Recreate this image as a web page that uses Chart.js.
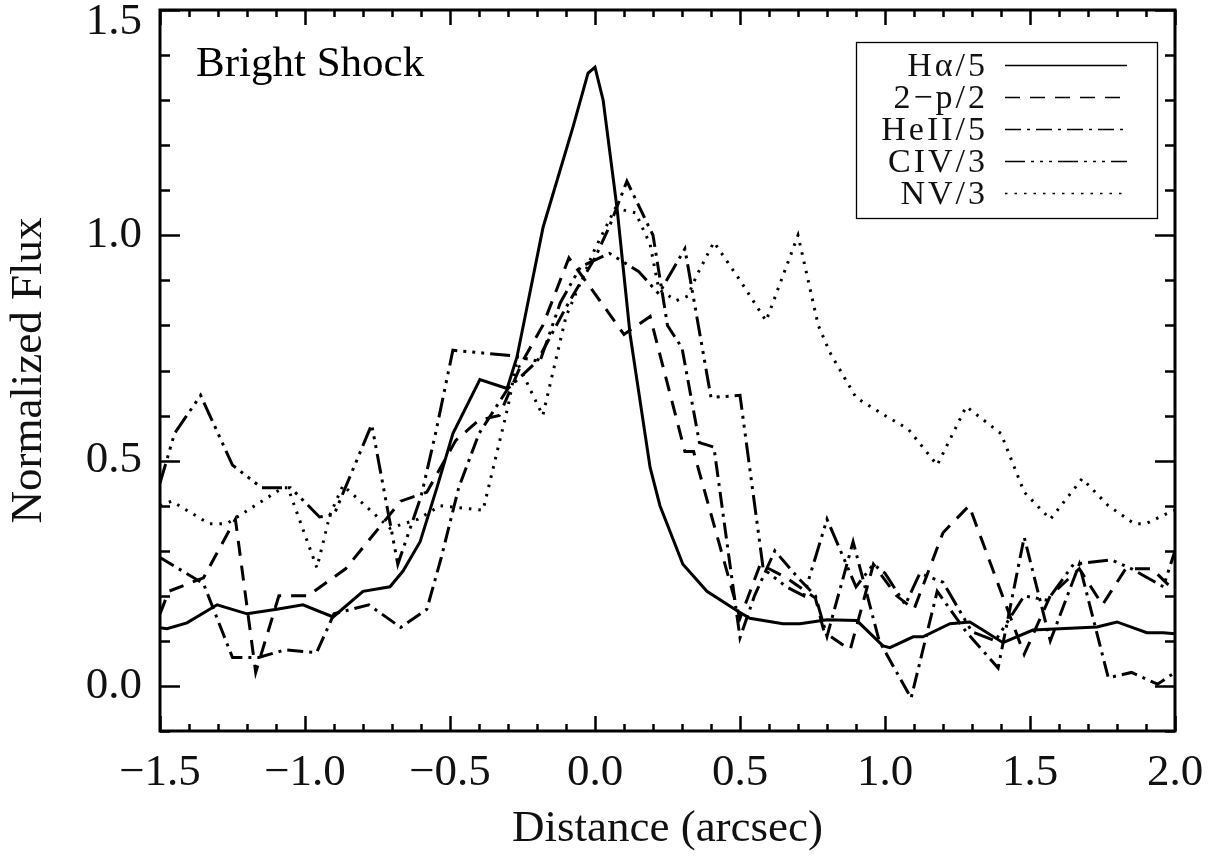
<!DOCTYPE html>
<html>
<head>
<meta charset="utf-8">
<script src="https://cdn.jsdelivr.net/npm/chart.js@4.4.0/dist/chart.umd.min.js"></script>
<style>
  html, body { margin: 0; padding: 0; background: #fff; }
  #wrap { width: 1225px; height: 857px; }
</style>
</head>
<body>
<div id="wrap"><canvas id="c" width="1225" height="857"></canvas></div>
<script>
// Tick labels
const xTickValues = [-1.5, -1.0, -0.5, 0.0, 0.5, 1.0, 1.5, 2.0];
const yTickValues = [0.0, 0.5, 1.0, 1.5];

// Hα / 5
const haX = [-1.5,-1.476,-1.407,-1.303,-1.2,-1.097,-1.007,-0.903,-0.8,-0.707,-0.662,-0.603,-0.545,-0.49,-0.397,-0.303,-0.269,-0.179,-0.076,-0.024,0.0,0.028,0.076,0.121,0.19,0.224,0.303,0.386,0.49,0.534,0.648,0.707,0.8,0.903,0.993,1.017,1.097,1.131,1.224,1.293,1.407,1.51,1.731,1.8,1.903,1.959,2.0];
const haY = [0.129,0.127,0.14,0.18,0.16,0.17,0.18,0.153,0.21,0.22,0.255,0.32,0.44,0.56,0.68,0.66,0.73,1.018,1.24,1.36,1.373,1.30,1.06,0.78,0.485,0.40,0.27,0.21,0.167,0.15,0.138,0.138,0.147,0.145,0.089,0.085,0.109,0.109,0.138,0.142,0.096,0.124,0.131,0.142,0.118,0.118,0.116];

// 2-p / 2
const tpX = [-1.5,-1.47,-1.35,-1.24,-1.17,-1.09,-0.99,-0.86,-0.67,-0.58,-0.48,-0.4,-0.33,-0.25,-0.18,-0.09,0.0,0.1,0.19,0.31,0.34,0.5,0.57,0.66,0.76,0.79,0.88,0.96,1.04,1.1,1.2,1.29,1.48,1.57,1.67,1.75,1.83,1.92,2.0];
const tpY = [0.16,0.21,0.24,0.37,0.03,0.20,0.20,0.26,0.41,0.43,0.545,0.59,0.60,0.72,0.80,0.95,0.87,0.78,0.82,0.52,0.52,0.15,0.27,0.24,0.195,0.12,0.08,0.27,0.20,0.17,0.34,0.40,0.07,0.20,0.26,0.18,0.26,0.26,0.21];

// HeII / 5
const heX = [-1.5,-1.35,-1.25,-1.16,-1.07,-0.96,-0.9,-0.78,-0.67,-0.58,-0.53,-0.47,-0.4,-0.3,-0.2,-0.1,0.0,0.05,0.11,0.2,0.25,0.3,0.36,0.41,0.5,0.55,0.62,0.7,0.76,0.8,0.89,0.98,1.09,1.18,1.28,1.39,1.48,1.57,1.67,1.77,1.85,1.94,2.0];
const heY = [0.285,0.227,0.063,0.063,0.08,0.074,0.16,0.18,0.13,0.17,0.285,0.44,0.56,0.66,0.72,0.84,0.95,1.02,1.12,1.0,0.80,0.75,0.54,0.53,0.107,0.2,0.30,0.24,0.2,0.11,0.32,0.1,-0.027,0.21,0.12,0.04,0.33,0.10,0.27,0.018,0.03,0.004,0.03];

// CIV / 3
const cvX = [-1.5,-1.45,-1.36,-1.25,-1.15,-1.05,-0.95,-0.9,-0.77,-0.68,-0.6,-0.55,-0.49,-0.29,-0.19,-0.12,-0.05,0.05,0.15,0.22,0.31,0.4,0.5,0.58,0.66,0.72,0.8,0.86,0.9,0.96,1.0,1.07,1.12,1.2,1.3,1.38,1.48,1.56,1.65,1.78,1.85,1.96,2.0];
const cvY = [0.45,0.56,0.645,0.49,0.44,0.44,0.375,0.38,0.58,0.27,0.42,0.56,0.745,0.733,0.72,0.85,0.93,0.96,0.92,0.87,0.97,0.64,0.645,0.26,0.22,0.20,0.37,0.28,0.22,0.27,0.25,0.18,0.25,0.23,0.12,0.10,0.20,0.19,0.27,0.28,0.26,0.22,0.30];

// NV / 3
const nvX = [-1.5,-1.46,-1.33,-1.27,-1.076,-1.059,-0.959,-0.914,-0.869,-0.707,-0.61,-0.534,-0.386,-0.3,-0.27,-0.18,-0.1,0.0,0.07,0.14,0.19,0.22,0.28,0.32,0.35,0.41,0.5,0.59,0.7,0.77,0.81,0.9,1.0,1.08,1.18,1.28,1.4,1.48,1.57,1.68,1.77,1.86,1.9,1.98,2.0];
const nvY = [0.40,0.41,0.36,0.36,0.44,0.44,0.262,0.38,0.445,0.35,0.37,0.40,0.39,0.62,0.72,0.60,0.82,0.97,1.06,1.05,0.98,0.88,0.855,0.865,0.91,0.985,0.90,0.81,1.0,0.80,0.74,0.64,0.60,0.57,0.49,0.62,0.56,0.43,0.37,0.46,0.40,0.36,0.36,0.385,0.39];

const seriesLabels = ['H\u03B1/5', '2\u2212p/2', 'HeII/5', 'CIV/3', 'NV/3'];
const seriesDashes = [[], [15, 10], [16, 6, 3, 6], [20, 6, 3, 6, 3, 6, 3, 6], [2.5, 7]];

const pts = (xs, ys) => xs.map((x, i) => ({ x: x, y: ys[i] }));
const seriesData = [pts(haX, haY), pts(tpX, tpY), pts(heX, heY), pts(cvX, cvY), pts(nvX, nvY)];

const SERIF = '"Liberation Serif", "DejaVu Serif", serif';

// Keep the topmost y label inside the canvas
const topLabelNudge = {
  id: 'topLabelNudge',
  beforeDraw(chart) {
    const items = chart.scales.y.getLabelItems();
    const last = items[items.length - 1];
    if (last && !last._nudged) {
      last.options.translation[1] += 12;
      last._nudged = true;
    }
  }
};

// Box frame, inward ticks on all four sides, legend and inset title
const framePlugin = {
  id: 'framePlugin',
  afterDatasetsDraw(chart) {
    const { ctx, chartArea: a, scales: { x, y } } = chart;
    ctx.save();
    ctx.strokeStyle = '#000';
    ctx.lineCap = 'butt';
    ctx.lineWidth = 2.5;
    for (let i = -15; i <= 20; i++) {
      const px = Math.round(x.getPixelForValue(i / 10)) + 0.5;
      const L = (i % 5 === 0) ? 15 : 7;
      ctx.beginPath();
      ctx.moveTo(px, a.bottom); ctx.lineTo(px, a.bottom - L);
      ctx.moveTo(px, a.top); ctx.lineTo(px, a.top + L);
      ctx.stroke();
    }
    for (let i = -1; i <= 15; i++) {
      const py = Math.round(y.getPixelForValue(i / 10)) + 0.5;
      const L = (i % 5 === 0) ? 20 : 10;
      ctx.beginPath();
      ctx.moveTo(a.left, py); ctx.lineTo(a.left + L, py);
      ctx.moveTo(a.right, py); ctx.lineTo(a.right - L, py);
      ctx.stroke();
    }
    ctx.lineWidth = 3;
    ctx.strokeRect(a.left, a.top, a.right - a.left, a.bottom - a.top);

    // inset title
    ctx.fillStyle = '#000';
    ctx.font = '43px ' + SERIF;
    ctx.textAlign = 'left';
    ctx.textBaseline = 'alphabetic';
    ctx.fillText('Bright Shock', 196, 76);

    // legend
    const bx = 856, by = 42, bw = 301, bh = 176;
    ctx.fillStyle = '#fff';
    ctx.fillRect(bx, by, bw, bh);
    ctx.lineWidth = 1.3;
    ctx.strokeStyle = '#000';
    ctx.strokeRect(bx + 0.5, by + 0.5, bw, bh);
    const rowY = [65, 97, 129, 161, 193];
    ctx.font = '34px ' + SERIF;
    ctx.textAlign = 'right';
    ctx.fillStyle = '#111';
    ctx.letterSpacing = '3px';
    chart.data.datasets.forEach((ds, i) => {
      ctx.fillText(ds.label, 988, rowY[i] + 11);
      ctx.save();
      ctx.letterSpacing = '0px';
      ctx.setLineDash(ds.borderDash || []);
      ctx.lineWidth = 1.4;
      ctx.beginPath();
      ctx.moveTo(1005, rowY[i] + 0.5);
      ctx.lineTo(1127, rowY[i] + 0.5);
      ctx.stroke();
      ctx.restore();
    });
    ctx.restore();
  }
};

new Chart(document.getElementById('c'), {
  type: 'line',
  data: {
    datasets: seriesData.map((d, i) => ({
      label: seriesLabels[i],
      data: d,
      borderColor: '#000',
      borderWidth: 3,
      borderDash: seriesDashes[i],
      borderCapStyle: 'butt',
      pointRadius: 0,
      tension: 0,
      fill: false
    }))
  },
  options: {
    responsive: false,
    animation: false,
    devicePixelRatio: 1,
    layout: { padding: { top: 10, right: 50, left: 0, bottom: 0 } },
    plugins: { legend: { display: false }, tooltip: { enabled: false } },
    scales: {
      x: {
        type: 'linear',
        min: -1.5, max: 2.0,
        grid: { display: false, drawTicks: false },
        border: { display: false },
        afterBuildTicks: s => { s.ticks = xTickValues.map(v => ({ value: v })); },
        afterFit: s => { s.height = 126; s.paddingLeft = 0; s.paddingRight = 0; },
        ticks: {
          color: '#111',
          font: { family: SERIF, size: 45 },
          padding: 15,
          maxRotation: 0,
          callback: v => (v < 0 ? '\u2212' : '') + Math.abs(v).toFixed(1)
        },
        title: {
          display: true,
          text: 'Distance (arcsec)',
          color: '#111',
          font: { family: SERIF, size: 45 },
          padding: { top: 0, bottom: 1 }
        }
      },
      y: {
        min: -0.1, max: 1.5,
        grid: { display: false, drawTicks: false },
        border: { display: false },
        afterBuildTicks: s => { s.ticks = yTickValues.map(v => ({ value: v })); },
        afterFit: s => { s.width = 160; s.paddingTop = 0; s.paddingBottom = 0; },
        ticks: {
          color: '#111',
          font: { family: SERIF, size: 45 },
          padding: 18,
          callback: v => v.toFixed(1)
        },
        title: {
          display: true,
          text: 'Normalized Flux',
          color: '#111',
          font: { family: SERIF, size: 45 },
          padding: { top: 2, bottom: 0 }
        }
      }
    }
  },
  plugins: [topLabelNudge, framePlugin]
});
</script>
</body>
</html>
